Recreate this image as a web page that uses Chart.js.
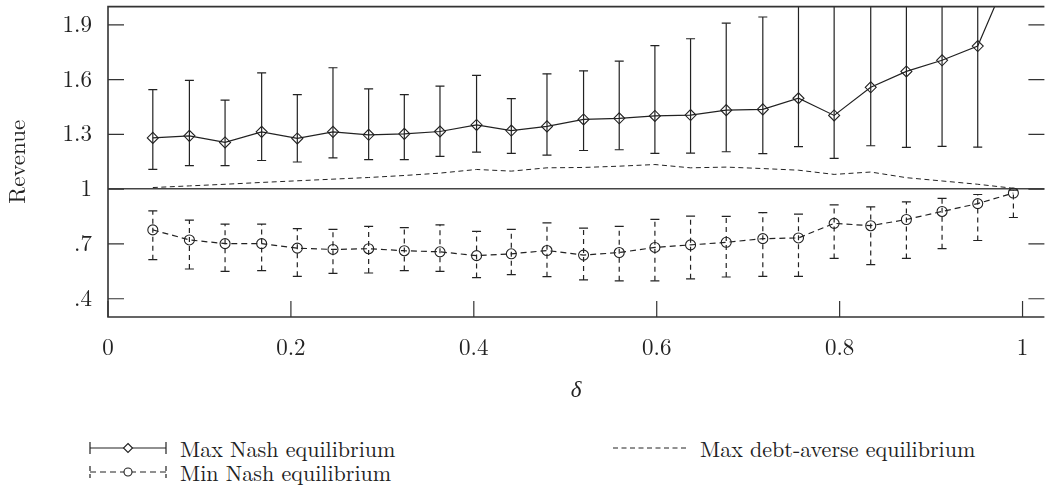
<!DOCTYPE html>
<html>
<head>
<meta charset="utf-8">
<script src="https://cdn.jsdelivr.net/npm/chart.js@4.4.1/dist/chart.umd.min.js"></script>
<style>
  html, body { margin: 0; padding: 0; background: #fff; }
  #wrap { position: relative; width: 1047px; height: 492px; overflow: hidden; font-family: "Latin Modern Roman", "Liberation Serif", serif; color: #222; }
  #chartBox { position: absolute; left: 0; top: 0; width: 1051px; height: 410px; }
  .leg { position: absolute; height: 24px; font-size: 22px; line-height: 24px; display: flex; align-items: center; white-space: nowrap; }
  .leg svg { display: block; }
</style>
</head>
<body>
<div id="wrap">
  <div id="chartBox"><canvas id="myChart"></canvas></div>

  <div class="leg" style="left:89px; top:436px;">
    <svg width="78" height="20" style="margin-right:13px">
      <line x1="1" y1="4" x2="1" y2="16" stroke="#222" stroke-width="1.2"/>
      <line x1="77" y1="4" x2="77" y2="16" stroke="#222" stroke-width="1.2"/>
      <line x1="1" y1="10" x2="77" y2="10" stroke="#222" stroke-width="1.2"/>
      <polygon points="39,5.5 43.5,10 39,14.5 34.5,10" fill="#fff" stroke="#222" stroke-width="1.1"/>
    </svg>
    <span>Max Nash equilibrium</span>
  </div>
  <div class="leg" style="left:89px; top:460px;">
    <svg width="78" height="20" style="margin-right:13px">
      <line x1="1" y1="4" x2="1" y2="16" stroke="#222" stroke-width="1.2" stroke-dasharray="5,3"/>
      <line x1="77" y1="4" x2="77" y2="16" stroke="#222" stroke-width="1.2" stroke-dasharray="5,3"/>
      <line x1="1" y1="10" x2="77" y2="10" stroke="#222" stroke-width="1.2" stroke-dasharray="6,4"/>
      <circle cx="39" cy="10" r="4" fill="#fff" stroke="#222" stroke-width="1.1"/>
    </svg>
    <span>Min Nash equilibrium</span>
  </div>
  <div class="leg" style="left:613px; top:436px;">
    <svg width="76" height="20" style="margin-right:11px">
      <line x1="0" y1="10" x2="76" y2="10" stroke="#222" stroke-width="1" stroke-dasharray="5,3.5"/>
    </svg>
    <span>Max debt-averse equilibrium</span>
  </div>
</div>

<script>
// valores
const delta = [0.049, 0.089, 0.128, 0.168, 0.207, 0.246, 0.285, 0.324, 0.363, 0.403, 0.441, 0.480, 0.520,
               0.559, 0.598, 0.637, 0.676, 0.716, 0.755, 0.794, 0.834, 0.873, 0.912, 0.951, 0.990];

const maxNash     = [1.281, 1.292, 1.256, 1.314, 1.278, 1.314, 1.298, 1.303, 1.316, 1.352, 1.321, 1.344, 1.382,
                     1.388, 1.401, 1.406, 1.433, 1.437, 1.498, 1.404, 1.558, 1.645, 1.706, 1.784, 2.240];
const maxNashLow  = [1.108, 1.129, 1.129, 1.157, 1.149, 1.171, 1.162, 1.162, 1.180, 1.203, 1.196, 1.187, 1.212,
                     1.216, 1.196, 1.198, 1.205, 1.195, 1.233, 1.169, 1.238, 1.229, 1.234, 1.230, 2.050];
const maxNashHigh = [1.545, 1.596, 1.488, 1.637, 1.518, 1.665, 1.549, 1.518, 1.565, 1.623, 1.496, 1.632, 1.648,
                     1.701, 1.786, 1.824, 1.909, 1.943, 2.150, 2.100, 2.250, 2.350, 2.400, 2.450, 2.600];

const minNash     = [0.777, 0.722, 0.702, 0.702, 0.677, 0.670, 0.674, 0.663, 0.657, 0.636, 0.646, 0.664, 0.639,
                     0.653, 0.681, 0.695, 0.709, 0.729, 0.733, 0.813, 0.800, 0.834, 0.878, 0.921, 0.979];
const minNashLow  = [0.614, 0.563, 0.550, 0.554, 0.523, 0.539, 0.541, 0.554, 0.550, 0.516, 0.532, 0.521, 0.503,
                     0.498, 0.498, 0.509, 0.519, 0.523, 0.523, 0.621, 0.587, 0.621, 0.674, 0.719, 0.845];
const minNashHigh = [0.881, 0.831, 0.809, 0.809, 0.784, 0.780, 0.796, 0.789, 0.805, 0.769, 0.780, 0.815, 0.787,
                     0.796, 0.835, 0.853, 0.851, 0.872, 0.863, 0.914, 0.903, 0.930, 0.950, 0.971, 0.995];

const debtAverse  = [1.009, 1.018, 1.027, 1.037, 1.046, 1.055, 1.064, 1.075, 1.088, 1.108, 1.099, 1.117, 1.119,
                     1.126, 1.135, 1.117, 1.121, 1.113, 1.104, 1.081, 1.094, 1.063, 1.045, 1.027, 1.005];

const xTickVals   = [0, 0.2, 0.4, 0.6, 0.8, 1];
const xTickLabels = ['0', '0.2', '0.4', '0.6', '0.8', '1'];
const yTickVals   = [0.4, 0.7, 1, 1.3, 1.6, 1.9];
const yTickLabels = ['.4', '.7', '1', '1.3', '1.6', '1.9'];
const refLevel = 1;

const INK = '#222';
const FONT = '"Latin Modern Roman", "Liberation Serif", serif';

const pts = (ys) => delta.map((x, i) => ({ x: x, y: ys[i] }));

// barras de error + marco + marcas interiores
const errorBarsPlugin = {
  id: 'errorBars',
  afterDatasetsDraw(chart) {
    const { ctx, chartArea: a, scales: { x, y } } = chart;
    const bars = [
      { lo: maxNashLow, hi: maxNashHigh, dash: [] },
      { lo: minNashLow, hi: minNashHigh, dash: [5, 4] }
    ];
    ctx.save();
    ctx.beginPath();
    ctx.rect(a.left, a.top, a.right - a.left, a.bottom - a.top);
    ctx.clip();
    ctx.strokeStyle = INK;
    ctx.lineWidth = 1.2;
    bars.forEach(b => {
      delta.forEach((d, i) => {
        const px = x.getPixelForValue(d);
        const y0 = y.getPixelForValue(b.lo[i]);
        const y1 = y.getPixelForValue(b.hi[i]);
        ctx.setLineDash(b.dash);
        ctx.beginPath();
        ctx.moveTo(px, y0);
        ctx.lineTo(px, y1);
        ctx.stroke();
        ctx.setLineDash([]);
        ctx.beginPath();
        ctx.moveTo(px - 4.5, y0); ctx.lineTo(px + 4.5, y0);
        ctx.moveTo(px - 4.5, y1); ctx.lineTo(px + 4.5, y1);
        ctx.stroke();
      });
    });
    ctx.restore();

    ctx.save();
    ctx.strokeStyle = '#333';
    ctx.lineWidth = 1.6;
    ctx.beginPath();
    ctx.moveTo(a.right, a.top); ctx.lineTo(a.left, a.top);
    ctx.lineTo(a.left, a.bottom); ctx.lineTo(a.right, a.bottom);
    ctx.stroke();
    ctx.lineWidth = 1.2;
    ctx.beginPath();
    xTickVals.forEach(v => {
      const px = x.getPixelForValue(v);
      ctx.moveTo(px, a.bottom); ctx.lineTo(px, a.bottom - 16);
    });
    yTickVals.forEach(v => {
      const py = y.getPixelForValue(v);
      ctx.moveTo(a.left, py); ctx.lineTo(a.left + 16, py);
      ctx.moveTo(a.right, py); ctx.lineTo(a.right - 16, py);
    });
    ctx.stroke();
    ctx.restore();
  }
};

new Chart(document.getElementById('myChart'), {
  type: 'line',
  data: {
    datasets: [{
      label: 'Max Nash equilibrium',
      data: pts(maxNash),
      borderColor: INK,
      borderWidth: 1.2,
      pointStyle: 'rectRot',
      pointRadius: 5.5,
      pointBorderWidth: 1.1,
      pointBorderColor: INK,
      pointBackgroundColor: 'rgba(0,0,0,0)',
      tension: 0
    }, {
      label: 'Min Nash equilibrium',
      data: pts(minNash),
      borderColor: INK,
      borderWidth: 1.2,
      borderDash: [6, 4],
      pointStyle: 'circle',
      pointRadius: 5,
      pointBorderWidth: 1.1,
      pointBorderColor: INK,
      pointBackgroundColor: 'rgba(0,0,0,0)',
      tension: 0
    }, {
      label: 'Max debt-averse equilibrium',
      data: pts(debtAverse),
      borderColor: INK,
      borderWidth: 1,
      borderDash: [5, 3.5],
      pointRadius: 0,
      tension: 0
    }]
  },
  options: {
    responsive: true,
    maintainAspectRatio: false,
    animation: false,
    layout: { padding: { top: 4, right: 0, left: 0, bottom: 0 } },
    plugins: {
      legend: { display: false },
      tooltip: { enabled: false }
    },
    scales: {
      x: {
        type: 'linear',
        min: 0,
        max: 1.0239,
        afterBuildTicks: s => { s.ticks = xTickVals.map(v => ({ value: v })); },
        afterFit: s => { s.height = 93; s.paddingLeft = 0; s.paddingRight = 0; },
        ticks: {
          callback: (v, i) => xTickLabels[i],
          autoSkip: false,
          maxRotation: 0,
          padding: 17,
          color: INK,
          font: { family: FONT, size: 23 }
        },
        grid: { display: false, drawTicks: false },
        border: { display: false },
        title: {
          display: true,
          text: 'δ',
          color: INK,
          font: { family: FONT, size: 23, style: 'italic' },
          padding: { top: 0, bottom: 6 }
        }
      },
      y: {
        min: 0.3,
        max: 2.0,
        afterBuildTicks: s => { s.ticks = yTickVals.map(v => ({ value: v })); },
        afterFit: s => { s.width = 108; s.paddingTop = 0; s.paddingBottom = 0; },
        ticks: {
          callback: (v, i) => yTickLabels[i],
          padding: 16,
          color: INK,
          font: { family: FONT, size: 23 }
        },
        grid: {
          drawTicks: false,
          lineWidth: 1.6,
          color: c => (c.tick && c.tick.value === refLevel) ? '#444' : 'rgba(0,0,0,0)'
        },
        border: { display: false },
        title: {
          display: true,
          text: 'Revenue',
          color: INK,
          font: { family: FONT, size: 23 },
          padding: { top: 4, bottom: 0 }
        }
      }
    }
  },
  plugins: [errorBarsPlugin]
});
</script>
</body>
</html>
